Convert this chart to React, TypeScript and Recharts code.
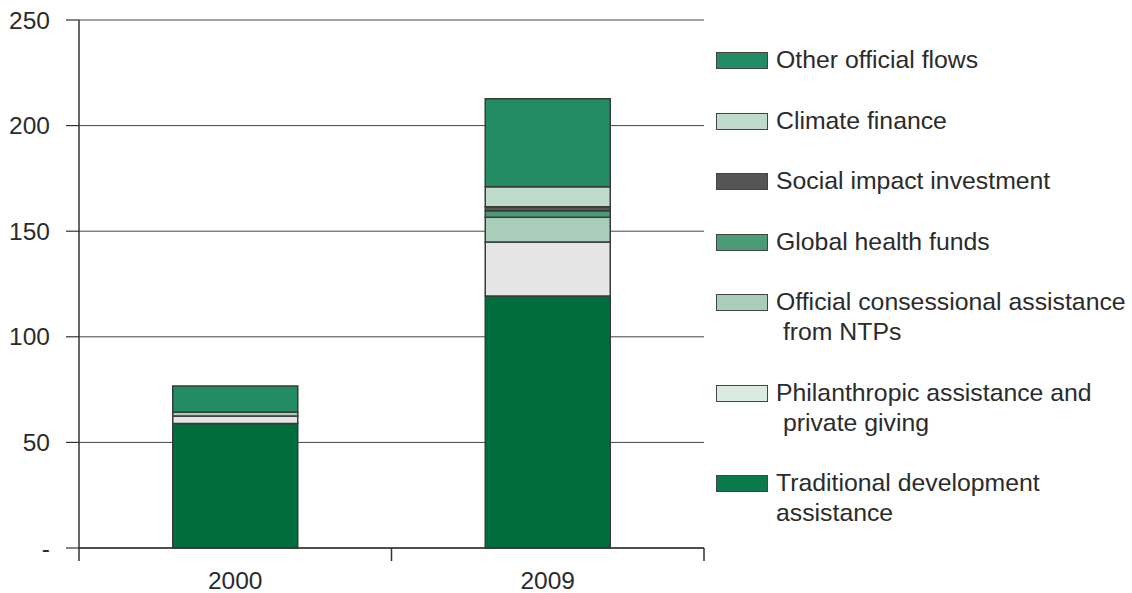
import { BarChart, Bar, XAxis, YAxis, CartesianGrid } from "recharts";

/* ------------------------------------------------------------------ */
/* Data */
/* ------------------------------------------------------------------ */

const years = ["2000", "2009"];

const traditional = [58.9, 119.3];
const philanthropic = [3.6, 25.6];
const consessionalNtp = [1.9, 11.7];
const globalHealth = [0, 3.1];
const socialImpact = [0, 1.9];
const climateFinance = [0, 9.5];
const otherOfficial = [12.3, 41.6];

const yTicks = [0, 50, 100, 150, 200, 250];

// stack order, bottom to top
const seriesKeys = [
  "traditional",
  "philanthropic",
  "consessionalNtp",
  "globalHealth",
  "socialImpact",
  "climateFinance",
  "otherOfficial",
];

const barColors = ["#006e3c", "#e5e5e5", "#a8cdb8", "#4a9a76", "#555555", "#bfdccb", "#248c64"];

// legend, top to bottom
const legendLines = [
  ["Other official flows"],
  ["Climate finance"],
  ["Social impact investment"],
  ["Global health funds"],
  ["Official consessional assistance", " from NTPs"],
  ["Philanthropic assistance and", " private giving"],
  ["Traditional development", "assistance"],
];
const legendColors = ["#248c64", "#bfdccb", "#555555", "#4c9a78", "#a8cdb8", "#dcebe2", "#0a7a4a"];

const data = years.map((year, i) => ({
  year,
  traditional: traditional[i],
  philanthropic: philanthropic[i],
  consessionalNtp: consessionalNtp[i],
  globalHealth: globalHealth[i],
  socialImpact: socialImpact[i],
  climateFinance: climateFinance[i],
  otherOfficial: otherOfficial[i],
}));

/* ------------------------------------------------------------------ */
/* Layout */
/* ------------------------------------------------------------------ */

const WIDTH = 1132;
const HEIGHT = 593;
const MARGIN = { top: 20, right: 428, bottom: 0, left: 0 };
const X_AXIS_H = 45;
const Y_AXIS_W = 79;
const PLOT_W = WIDTH - MARGIN.right - MARGIN.left - Y_AXIS_W;
const HALF_BAND = PLOT_W / years.length / 2;
const FONT = '"Liberation Sans", Arial, sans-serif';
const TEXT = "#2b2b2b";
const AXIS = "#333333";

// category label plus separator ticks on the band edges
const YearTick = (props: any) => {
  const { x, y, payload, index } = props;
  const last = index === years.length - 1;
  return (
    <g>
      <line x1={x - HALF_BAND} x2={x - HALF_BAND} y1={y} y2={y + 13} stroke={AXIS} strokeWidth={1.5} />
      {last && (
        <line x1={x + HALF_BAND} x2={x + HALF_BAND} y1={y} y2={y + 13} stroke={AXIS} strokeWidth={1.5} />
      )}
      <text x={x} y={y + 41} textAnchor="middle" fill={TEXT} fontSize={24.5} fontFamily={FONT}>
        {payload.value}
      </text>
    </g>
  );
};

const Legend = () => (
  <div style={{ position: "absolute", left: 716, top: 45, fontFamily: FONT, fontSize: 24.8, color: TEXT }}>
    {legendLines.map((lines, i) => (
      <div key={i} style={{ position: "relative", marginBottom: 30.5, lineHeight: "30px" }}>
        <div
          style={{
            position: "absolute",
            left: 0,
            top: 7,
            width: 52,
            height: 17,
            boxSizing: "border-box",
            border: "1.5px solid #444",
            background: legendColors[i],
          }}
        />
        {lines.map((t, j) => (
          <div key={j} style={{ paddingLeft: 60, whiteSpace: "pre" }}>
            {t}
          </div>
        ))}
      </div>
    ))}
  </div>
);

export default function App() {
  return (
    <div style={{ position: "absolute", left: 0, top: 0, width: WIDTH, height: HEIGHT, background: "#fff" }}>
      <BarChart width={WIDTH} height={HEIGHT} data={data} margin={MARGIN} barCategoryGap="30%">
        <CartesianGrid vertical={false} stroke="#444" strokeWidth={1} />
        <XAxis
          dataKey="year"
          axisLine={{ stroke: AXIS, strokeWidth: 1.5 }}
          tickLine={false}
          tickSize={0}
          tickMargin={0}
          height={X_AXIS_H}
          tick={YearTick}
          interval={0}
        />
        <YAxis
          width={Y_AXIS_W}
          domain={[0, 250]}
          ticks={yTicks}
          interval={0}
          axisLine={{ stroke: AXIS, strokeWidth: 1.5 }}
          tickLine={{ stroke: AXIS, strokeWidth: 1.2 }}
          tickSize={13}
          tickMargin={16}
          tickFormatter={(v: number) => (v === 0 ? "-" : String(v))}
          tick={{ fill: TEXT, fontSize: 24.5, fontFamily: FONT }}
        />
        {seriesKeys.map((key, i) => (
          <Bar
            key={key}
            dataKey={key}
            stackId="a"
            fill={barColors[i]}
            stroke="#3a3a3a"
            strokeWidth={1.5}
            isAnimationActive={false}
          />
        ))}
      </BarChart>
      <Legend />
    </div>
  );
}
